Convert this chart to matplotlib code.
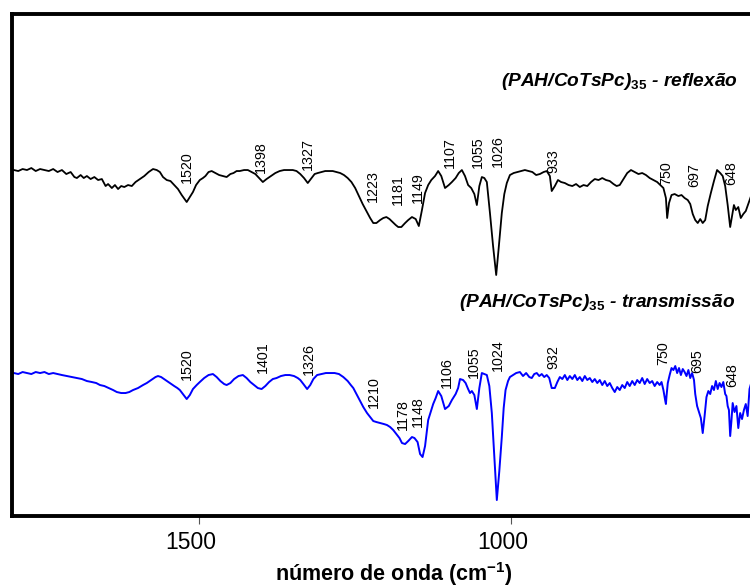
import matplotlib
matplotlib.use("Agg")
import matplotlib.pyplot as plt
from matplotlib.transforms import ScaledTranslation

plt.rcParams['font.family'] = ['Liberation Sans', 'DejaVu Sans']
plt.rcParams['mathtext.fontset'] = 'custom'
plt.rcParams['mathtext.it'] = 'Liberation Sans:bold:italic'
plt.rcParams['mathtext.rm'] = 'Liberation Sans:bold'

# ---- data: (wavenumber cm-1, intensity a.u.) ----
refl_points = [
    (1797, 346), (1790, 345), (1783, 347), (1776, 346), (1769, 348), (1762, 345), (1755, 347),
    (1748, 346), (1741, 345), (1734, 347), (1727, 344), (1720, 346), (1713, 342), (1706, 344),
    (1700, 339), (1696, 338), (1690, 341), (1685, 338), (1680, 340), (1674, 337), (1668, 339),
    (1662, 336), (1656, 337), (1650, 330), (1646, 332), (1640, 328), (1635, 331), (1630, 327),
    (1625, 330), (1620, 329), (1614, 331), (1608, 330), (1602, 334), (1595, 337), (1588, 340),
    (1581, 344), (1574, 347), (1568, 346), (1563, 344), (1558, 339), (1552, 336), (1546, 335),
    (1540, 331), (1534, 327), (1528, 321), (1520, 314), (1515, 319), (1510, 324), (1505, 331),
    (1499, 336), (1494, 338), (1490, 340), (1485, 344), (1480, 345), (1474, 343), (1468, 341),
    (1462, 340), (1456, 339), (1450, 342), (1445, 343), (1440, 345), (1435, 345), (1428, 346),
    (1422, 346), (1416, 344), (1410, 342), (1404, 338), (1398, 334), (1392, 337), (1385, 340),
    (1378, 343), (1371, 345), (1364, 346), (1357, 346), (1350, 346), (1344, 345), (1338, 342),
    (1332, 338), (1326, 333), (1320, 338), (1315, 342), (1310, 343), (1304, 344), (1298, 345),
    (1292, 345), (1286, 345), (1280, 344), (1274, 343), (1268, 341), (1262, 338), (1256, 334),
    (1250, 328), (1244, 320), (1238, 312), (1232, 305), (1226, 298), (1221, 293), (1216, 293),
    (1210, 296), (1205, 298), (1200, 299), (1195, 297), (1190, 294), (1185, 291), (1181, 289),
    (1176, 289), (1170, 293), (1165, 296), (1159, 299), (1153, 297), (1148, 290), (1143, 306),
    (1138, 323), (1133, 331), (1128, 336), (1122, 340), (1117, 345), (1112, 340), (1106, 328),
    (1100, 331), (1095, 334), (1089, 338), (1084, 343), (1079, 346), (1074, 340), (1069, 331),
    (1064, 328), (1059, 322), (1055, 311), (1051, 330), (1047, 339), (1043, 338), (1039, 334),
    (1034, 303), (1029, 270), (1024, 241), (1020, 268), (1015, 303), (1011, 322), (1007, 333),
    (1002, 341), (996, 343), (990, 344), (984, 345), (978, 346), (972, 345), (966, 344),
    (960, 341), (954, 342), (948, 344), (943, 345), (938, 340), (935, 325), (930, 330),
    (925, 336), (920, 334), (914, 333), (908, 331), (902, 330), (896, 332), (890, 329),
    (884, 331), (878, 330), (872, 334), (866, 337), (860, 336), (854, 338), (848, 336),
    (842, 335), (836, 332), (831, 330), (826, 331), (820, 337), (814, 343), (808, 346),
    (802, 344), (796, 342), (790, 343), (784, 341), (778, 338), (772, 336), (766, 334),
    (761, 331), (756, 328), (752, 318), (750, 298), (747, 313), (743, 321), (738, 322),
    (732, 320), (727, 321), (722, 318), (717, 316), (713, 312), (709, 302), (705, 296),
    (701, 293), (697, 297), (693, 293), (689, 296), (685, 310), (680, 323), (675, 335),
    (670, 346), (665, 343), (661, 340), (657, 330), (653, 311), (649, 289), (646, 300),
    (643, 311), (640, 306), (636, 309), (632, 298), (628, 302), (624, 305), (620, 312),
    (615, 321), (610, 328), (605, 336),
]

trans_points = [
    (1797, 143), (1790, 142), (1783, 144), (1776, 143), (1769, 142), (1762, 144), (1755, 143),
    (1748, 144), (1741, 142), (1734, 143), (1727, 142), (1720, 141), (1712, 140), (1704, 139),
    (1696, 138), (1688, 137), (1680, 135), (1672, 134), (1665, 133), (1659, 131), (1652, 130),
    (1645, 128), (1638, 126), (1632, 124), (1625, 123), (1618, 123), (1612, 124), (1606, 126),
    (1598, 128), (1590, 131), (1584, 133), (1577, 136), (1570, 139), (1566, 140), (1561, 139),
    (1554, 136), (1547, 133), (1540, 130), (1535, 128), (1531, 126), (1525, 121), (1520, 117),
    (1515, 121), (1510, 127), (1504, 131), (1499, 134), (1492, 138), (1485, 141), (1478, 142),
    (1472, 139), (1466, 135), (1460, 132), (1456, 131), (1450, 133), (1444, 137), (1437, 140),
    (1430, 141), (1424, 138), (1418, 134), (1412, 131), (1406, 128), (1400, 127), (1394, 130),
    (1388, 134), (1382, 137), (1376, 138), (1369, 140), (1362, 141), (1355, 141), (1348, 140),
    (1342, 138), (1338, 136), (1333, 132), (1327, 127), (1322, 131), (1317, 137), (1311, 141),
    (1304, 142), (1297, 143), (1290, 143), (1283, 143), (1276, 142), (1269, 139), (1262, 135),
    (1257, 131), (1253, 128), (1248, 122), (1243, 116), (1237, 109), (1231, 103), (1226, 99),
    (1221, 95), (1216, 94), (1210, 93), (1204, 92), (1199, 91), (1194, 89), (1189, 86),
    (1184, 82), (1179, 78), (1175, 73), (1170, 72), (1165, 75), (1159, 79), (1155, 78),
    (1150, 74), (1146, 62), (1142, 59), (1138, 70), (1133, 96), (1129, 104), (1125, 112),
    (1121, 118), (1117, 125), (1112, 120), (1106, 107), (1100, 110), (1095, 116), (1089, 122),
    (1085, 128), (1082, 137), (1077, 136), (1073, 133), (1069, 127), (1066, 123), (1063, 125),
    (1059, 121), (1055, 107), (1051, 128), (1047, 143), (1043, 142), (1039, 141), (1035, 130),
    (1031, 103), (1027, 60), (1023, 16), (1019, 45), (1015, 79), (1012, 108), (1009, 126),
    (1005, 135), (1002, 139), (997, 141), (992, 143), (986, 144), (981, 140), (976, 143),
    (971, 139), (967, 138), (963, 142), (959, 143), (955, 140), (951, 142), (947, 139),
    (943, 141), (939, 138), (935, 128), (930, 128), (926, 134), (922, 139), (918, 137),
    (914, 141), (910, 136), (906, 140), (902, 137), (898, 141), (894, 136), (890, 139),
    (886, 135), (882, 140), (878, 136), (874, 138), (870, 134), (866, 137), (862, 133),
    (858, 136), (854, 131), (850, 135), (846, 130), (842, 133), (838, 128), (834, 124),
    (830, 129), (826, 126), (822, 131), (818, 128), (814, 134), (810, 130), (806, 135),
    (802, 131), (798, 136), (794, 133), (790, 138), (786, 132), (782, 137), (778, 133),
    (774, 135), (770, 130), (766, 134), (762, 131), (759, 134), (756, 126), (753, 115),
    (752, 112), (751, 120), (749, 133), (746, 141), (743, 148), (740, 146), (737, 150),
    (734, 143), (731, 148), (728, 141), (725, 147), (722, 144), (719, 140), (716, 146),
    (713, 138), (710, 143), (707, 136), (705, 122), (702, 110), (699, 104), (696, 98),
    (693, 83), (690, 100), (687, 119), (684, 125), (681, 122), (678, 130), (675, 126),
    (672, 135), (669, 127), (666, 133), (663, 129), (660, 134), (657, 122), (655, 120),
    (653, 110), (651, 106), (649, 80), (647, 95), (645, 113), (642, 104), (639, 110),
    (636, 88), (633, 103), (630, 97), (627, 106), (624, 112), (621, 100), (618, 127),
    (614, 136), (610, 140), (605, 146),
]

refl_w = [p[0] for p in refl_points]
refl_v = [p[1] for p in refl_points]
trans_w = [p[0] for p in trans_points]
trans_v = [p[1] for p in trans_points]

refl_peaks = [1520, 1398, 1327, 1223, 1181, 1149, 1107, 1055, 1026, 933, 750, 697, 648]
refl_label_x = [1520, 1401, 1326, 1221, 1181, 1149, 1098, 1053, 1021, 932, 752, 707, 648]
refl_label_y = [333, 343, 346, 314, 311, 313, 348, 348, 349, 343, 331, 329, 331]

trans_peaks = [1520, 1401, 1326, 1210, 1178, 1148, 1106, 1055, 1024, 932, 750, 695, 648]
trans_label_x = [1520, 1398, 1324, 1220, 1173, 1149, 1103, 1060, 1021, 932, 757, 701, 645]
trans_label_y = [136, 143, 141, 108, 86, 89, 128, 138, 145, 147, 151, 143, 129]

refl_title = r"(PAH/CoTsPc)$_{\mathit{35}}$ - reflexão"
trans_title = r"(PAH/CoTsPc)$_{\mathit{35}}$ - transmissão"
x_label = r"número de onda (cm$^{\mathrm{-1}}$)"
x_ticks = [1500, 1000]

# ---- figure ----
fig = plt.figure(figsize=(7.5, 5.87), dpi=100)
ax = fig.add_axes([0.016, 0.1209, 1.0, 0.8552])
ax.plot(refl_w, refl_v, color='black', lw=1.3)
ax.plot(trans_w, trans_v, color='#0000ff', lw=1.4)

ax.set_xlim(1800, 598)
ax.set_ylim(0, 502)

for lx, ly, p in zip(refl_label_x, refl_label_y, refl_peaks):
    ax.text(lx, ly, str(p), rotation=90, ha='center', va='bottom', fontsize=10.3)
for lx, ly, p in zip(trans_label_x, trans_label_y, trans_peaks):
    ax.text(lx, ly, str(p), rotation=90, ha='center', va='bottom', fontsize=10.3)

ax.text(0.968, 0.865, refl_title, transform=ax.transAxes, ha='right', va='center',
        fontsize=13.8, fontweight='bold', fontstyle='italic')
ax.text(0.965, 0.425, trans_title, transform=ax.transAxes, ha='right', va='center',
        fontsize=13.8, fontweight='bold', fontstyle='italic')

for s in ['left', 'top', 'bottom']:
    ax.spines[s].set_linewidth(2.8)
ax.spines['right'].set_visible(False)

ax.set_yticks([])
ax.set_xticks(x_ticks)
ax.set_xticklabels([str(t) for t in x_ticks], fontsize=16.5)
ax.tick_params(axis='x', direction='out', length=6, width=0.8, color='#555555', pad=5)
shift = ScaledTranslation(-0.08, 0, fig.dpi_scale_trans)
for lab in ax.get_xticklabels():
    lab.set_transform(lab.get_transform() + shift)
ax.set_xlabel(x_label, fontsize=15.5, fontweight='bold')
ax.xaxis.set_label_coords(0.509, -0.087)

fig.savefig('out.png', dpi=100)
